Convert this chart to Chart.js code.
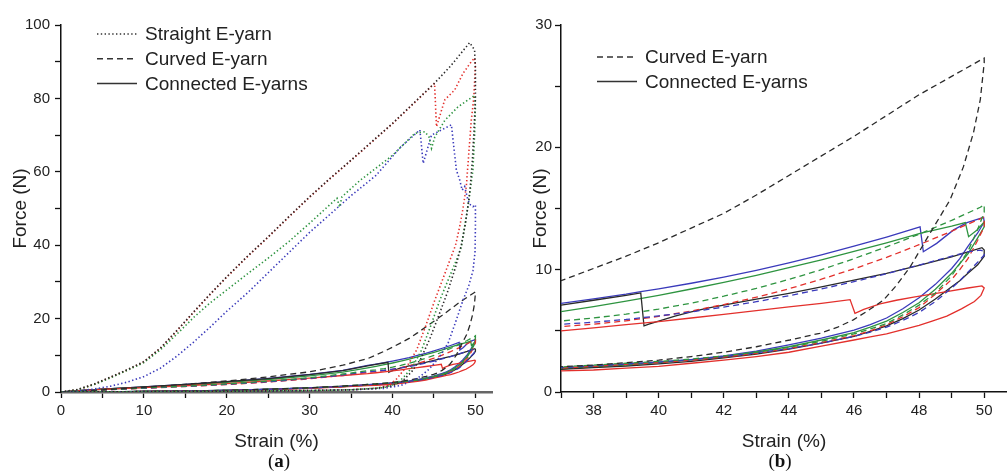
<!DOCTYPE html>
<html>
<head>
<meta charset="utf-8">
<script src="https://cdn.jsdelivr.net/npm/chart.js@4.4.0/dist/chart.umd.min.js"></script>
<style>
  body { margin: 0; background: #fff; width: 1007px; height: 475px; overflow: hidden; position: relative; }
  .panel { position: absolute; top: 0; }
  .panel canvas { display: block; }
  .cap { position: absolute; top: 450px; font: 19px "Liberation Serif", "Times New Roman", serif; color: #111; transform: translateX(-50%); }
</style>
</head>
<body>
<div class="panel" style="left:0"><canvas id="chartA" width="500" height="475"></canvas></div>
<div class="panel" style="left:500px"><canvas id="chartB" width="507" height="475"></canvas></div>
<div class="cap" style="left:279px">(<b>a</b>)</div>
<div class="cap" style="left:780px">(<b>b</b>)</div>
<script>
// strain (%) , force (N) pairs, loading then unloading
const straightBlack = [[0,0],[2,0.7],[4,2.2],[6,4.1],[8,6.1],[10,8.3],[12,12],[14,16.8],[16,21.8],[18,26.7],[20,31.4],[22.5,37],[25,42.3],[27.5,47.8],[30,53.2],[32.5,58.3],[35,63.2],[37.5,68.2],[40,73.2],[42.5,78.6],[45,84],[47,88.8],[49.3,95.2],[49.9,93.2],[50,88],[50,80],[49.8,70],[49.6,62],[49.3,54],[48.8,46],[48.3,40],[47.6,34],[46.6,27],[45.6,21],[44.5,14.5],[43.4,9],[42.3,5.5],[41.2,3],[40,1.7],[38,1],[35,0.6],[30,0.4],[20,0.2],[10,0.1],[0,0]];
const straightRed = [[0,0],[2,0.6],[4,2.1],[6,4],[8,6],[10,8.2],[12,11.9],[14,16.7],[16,21.7],[18,26.6],[20,31.3],[22.5,36.9],[25,42.2],[27.5,47.7],[30,53.1],[32.5,58.2],[35,63.1],[37.5,68.1],[40,73.1],[42.5,78.5],[45.07,84.1],[45.3,72.3],[46.3,79.6],[47.5,82.3],[48.5,86.8],[49.5,90],[49.9,91],[50,89],[49.8,80],[49.5,74],[49.2,65],[48.9,56],[48.5,50],[48.1,45],[47.6,40],[47.1,37],[46.1,31],[45.1,25],[44,18],[42.9,11.4],[41.8,7.2],[41,5],[40.4,3.3],[39.5,1.8],[38,1],[35,0.6],[30,0.4],[20,0.2],[10,0.1],[0,0]];
const straightGreen = [[0,0],[2,0.6],[4,2],[6,3.9],[8,5.9],[10,8],[12,11.5],[14,15.8],[16,20.3],[18,24.3],[20,27.8],[22.5,32.2],[25,36.5],[27.5,41],[30,46],[33.3,52.8],[33.6,50.4],[33.9,53.2],[36,57.5],[38,61],[40,64.5],[42.7,70.5],[43.9,70.9],[44.4,69.5],[44.7,66.4],[45.1,69.5],[46.3,74],[47.9,77.7],[49.7,80.5],[49.9,80.8],[50,78],[49.9,70],[49.7,60.5],[49.1,50.5],[48.3,39.6],[47.9,37],[46.8,31],[45.7,25],[44.6,18],[43.5,11.4],[42.4,6.8],[41.4,4.2],[40.6,2.4],[39,1.2],[35,0.6],[30,0.4],[20,0.2],[10,0.1],[0,0]];
const straightBlue = [[0,0],[2,0.3],[4,0.8],[6,1.6],[8,2.7],[10,4.2],[12,6.5],[14,9.8],[16,13.6],[18,17.7],[20,22],[22.5,27],[25,32.5],[27.5,38],[30,43.5],[33,49.5],[35,53.5],[38,59],[41,66.8],[43.3,71.4],[43.7,62.3],[44.7,70],[45.9,71.4],[47.1,72.8],[47.7,60.5],[48.1,57.8],[48.4,55],[48.7,56],[49.1,52.3],[49.4,51],[49.7,50.5],[50,51],[50,45],[49.95,38],[49.7,33],[49.2,29],[48.5,25],[47.6,19],[46.7,13.3],[45.5,9],[44.3,6],[43.3,4.2],[42.6,3.3],[41,1.8],[39,1],[35,0.6],[30,0.4],[20,0.2],[10,0.1],[0,0]];

const curvedBlack = [[0,0],[2,0.2],[5,0.6],[10,1.3],[15,2.1],[20,3],[25,4.1],[30,5.5],[34,7.3],[37,9.1],[38,10.1],[39,11.1],[40,12.2],[41,13.4],[42,14.6],[43,16.1],[44,17.7],[45,19.3],[46,20.9],[47,22.6],[48,24.3],[49,25.8],[50,27.3],[50,26.9],[49.88,23.9],[49.67,21.2],[49.36,18.4],[48.95,15.7],[48.34,13],[47.72,10.2],[47.3,8.7],[46.9,7.5],[46.4,6.6],[45.98,5.9],[45.5,5.3],[44.95,4.8],[44.03,4.25],[43,3.7],[42,3.25],[41,2.9],[40,2.6],[39,2.4],[38,2.2],[37,2.07],[34,1.6],[30,1.15],[25,0.75],[20,0.45],[15,0.3],[10,0.15],[5,0.05],[0,0]];
const curvedRed = [[0,0],[2,0.2],[5,0.55],[10,1],[15,1.5],[20,2],[25,2.7],[30,3.6],[34,4.5],[37,5.35],[38,5.54],[39,5.82],[40,6.18],[41,6.62],[42,7.15],[43,7.75],[44,8.44],[45,9.22],[46,10.07],[47,11],[48,12.04],[48.65,12.75],[49.3,13.49],[50,14.3],[50,13.5],[49.8,12.4],[49.5,10.9],[49.25,10],[49,9.2],[48.5,8],[48,6.9],[47.5,6.15],[47,5.5],[46.5,5],[46,4.6],[45,4.05],[44,3.55],[43,3.15],[42,2.85],[41,2.6],[40,2.4],[39,2.25],[38,2.1],[37,1.95],[34,1.55],[30,1.1],[25,0.7],[20,0.42],[15,0.28],[10,0.14],[5,0.05],[0,0]];
const curvedGreen = [[0,0],[2,0.22],[5,0.6],[10,1.1],[15,1.6],[20,2.2],[25,2.95],[30,3.9],[34,4.9],[37,5.8],[38,6.05],[39,6.37],[40,6.78],[41,7.26],[42,7.83],[43,8.47],[44,9.2],[45,10],[46,10.9],[47,11.86],[48,12.9],[49,14.03],[49.88,15.1],[50,15.3],[50,14.7],[49.8,13.3],[49.5,11.5],[49.25,10.5],[49,9.5],[48.5,8.1],[48,7.1],[47.5,6.3],[47,5.6],[46.5,5.15],[46,4.75],[45,4.15],[44,3.65],[43,3.25],[42,2.95],[41,2.7],[40,2.5],[39,2.35],[38,2.2],[37,2.05],[34,1.6],[30,1.15],[25,0.75],[20,0.45],[15,0.3],[10,0.15],[5,0.05],[0,0]];
const curvedBlue = [[0,0],[2,0.21],[5,0.57],[10,1.05],[15,1.55],[20,2.1],[25,2.8],[30,3.7],[34,4.65],[37,5.53],[38,5.71],[39,5.93],[40,6.22],[41,6.55],[42,6.94],[43,7.38],[44,7.87],[45,8.42],[46,9.02],[47,9.67],[48,10.38],[49,11.1],[49.5,11.45],[49.88,11.6],[50,11.5],[50,11.2],[49.8,10.6],[49.5,9.8],[49.25,9.1],[49,8.5],[48.5,7.4],[48,6.5],[47.5,5.85],[47,5.3],[46.5,4.9],[46,4.55],[45,4],[44,3.55],[43,3.2],[42,2.9],[41,2.65],[40,2.45],[39,2.3],[38,2.15],[37,2],[34,1.55],[30,1.1],[25,0.72],[20,0.44],[15,0.28],[10,0.14],[5,0.05],[0,0]];

const connectedBlack = [[0,0],[2,0.35],[5,0.8],[10,1.4],[15,2.05],[20,2.8],[25,3.65],[30,4.75],[34,5.85],[37,7.1],[38,7.5],[39,7.9],[39.45,8.1],[39.55,5.4],[39.7,5.55],[40,5.8],[40.5,6.2],[41,6.55],[41.5,6.85],[42,7.1],[43,7.6],[44,8.07],[45,8.6],[46,9.15],[47,9.7],[48,10.35],[49,11.05],[49.93,11.8],[50,11.6],[50,11.1],[49.8,10.4],[49.5,9.7],[49.25,9.1],[49,8.6],[48.5,7.6],[48,6.7],[47.5,6],[47,5.4],[46.5,4.95],[46,4.55],[45,4],[44,3.5],[43,3.1],[42,2.8],[41,2.5],[40,2.3],[39,2.12],[38,2],[37,1.85],[34,1.5],[30,1.1],[25,0.7],[20,0.45],[15,0.28],[10,0.15],[5,0.05],[0,0]];
const connectedRed = [[0,0],[2,0.3],[5,0.7],[10,1.2],[15,1.7],[20,2.3],[25,3],[30,3.8],[34,4.5],[37,5],[38,5.25],[39,5.5],[40,5.75],[41,6.05],[42,6.35],[43,6.65],[44,6.95],[45,7.25],[45.88,7.55],[46.03,6.43],[46.3,6.75],[46.8,7.2],[47.3,7.5],[47.83,7.75],[48.85,8.2],[49.5,8.5],[49.93,8.67],[50,8.5],[49.9,7.9],[49.7,7.4],[49.3,6.8],[48.85,6.2],[48.4,5.8],[48,5.45],[47.5,5.1],[47,4.75],[46.5,4.5],[46,4.25],[45,3.75],[44,3.25],[43,2.9],[42,2.6],[41,2.35],[40,2.1],[39,1.95],[38,1.8],[37,1.72],[34,1.4],[30,1],[25,0.65],[20,0.4],[15,0.25],[10,0.12],[5,0.05],[0,0]];
const connectedGreen = [[0,0],[2,0.32],[5,0.75],[10,1.3],[15,1.9],[20,2.6],[25,3.4],[30,4.4],[34,5.4],[37,6.57],[38,6.98],[39,7.43],[40,7.9],[41,8.42],[42,8.96],[43,9.54],[44,10.16],[45,10.8],[46,11.49],[47,12.2],[48.03,12.97],[49,13.55],[49.42,13.85],[49.52,12.7],[49.78,13.25],[50,13.9],[50,13.5],[49.8,12.6],[49.5,11.3],[49.25,10.5],[49,9.7],[48.5,8.4],[48,7.3],[47.5,6.5],[47,5.8],[46.5,5.3],[46,4.85],[45,4.25],[44,3.7],[43,3.27],[42,2.9],[41,2.62],[40,2.4],[39,2.2],[38,2.05],[37,1.9],[34,1.5],[30,1.1],[25,0.72],[20,0.45],[15,0.28],[10,0.15],[5,0.05],[0,0]];
const connectedBlue = [[0,0],[2,0.35],[5,0.8],[10,1.4],[15,2.05],[20,2.8],[25,3.7],[30,4.8],[34,5.9],[37,7.25],[38,7.62],[39,8],[39.45,8.2],[40,8.43],[41,8.89],[42,9.39],[43,9.95],[44,10.55],[45,11.21],[46,11.92],[47,12.67],[48.03,13.5],[48.13,11.47],[48.54,12.15],[49.06,13.25],[49.47,13.85],[49.98,14.28],[50,13.9],[49.8,13],[49.5,11.9],[49.25,10.9],[49,10.1],[48.5,8.8],[48,7.7],[47.5,6.8],[47,6.05],[46.5,5.5],[46,5.05],[45,4.4],[44,3.85],[43,3.35],[42,2.95],[41,2.65],[40,2.45],[39,2.25],[38,2.1],[37,1.95],[34,1.55],[30,1.15],[25,0.75],[20,0.45],[15,0.3],[10,0.15],[5,0.05],[0,0]];

const legendLabels = ['Straight E-yarn', 'Curved E-yarn', 'Connected E-yarns'];

const FONT = '"Liberation Sans", Arial, Helvetica, sans-serif';
Chart.defaults.font.family = FONT;

const colors = { black: '#2a2a2a', red: '#e3302c', green: '#2e9440', blue: '#3a3abb' };
const DOT = [1.4, 2.4];
const DASH = [6, 4];

function line(points, color, dash, width) {
    return {
        data: points.map(p => ({ x: p[0], y: p[1] })),
        borderColor: color,
        borderDash: dash,
        borderWidth: width,
        pointRadius: 0,
        fill: false,
        tension: 0
    }
}

const straightSets = [
    line(straightBlack, colors.black, DOT, 1.6),
    line(straightGreen, colors.green, DOT, 1.6),
    line(straightBlue, colors.blue, DOT, 1.6),
    line(straightRed, colors.red, DOT, 1.6)
];
const curvedSets = () => [
    line(curvedBlack, colors.black, DASH, 1.3),
    line(curvedGreen, colors.green, DASH, 1.3),
    line(curvedBlue, colors.blue, DASH, 1.3),
    line(curvedRed, colors.red, DASH, 1.3)
];
const connectedSets = () => [
    line(connectedRed, colors.red, [], 1.3),
    line(connectedBlack, colors.black, [], 1.3),
    line(connectedGreen, colors.green, [], 1.3),
    line(connectedBlue, colors.blue, [], 1.3)
];

// little line-style key drawn inside the plot
const styleKey = {
    id: 'styleKey',
    afterDraw(chart, args, opts) {
        const ctx = chart.ctx;
        ctx.save();
        ctx.font = '19px ' + FONT;
        ctx.textBaseline = 'middle';
        opts.items.forEach((it, i) => {
            const y = opts.y + i * opts.gap;
            ctx.strokeStyle = '#333';
            ctx.lineWidth = 1.5;
            ctx.setLineDash(it.dash);
            ctx.beginPath();
            ctx.moveTo(opts.x, y);
            ctx.lineTo(opts.x + 40, y);
            ctx.stroke();
            ctx.setLineDash([]);
            ctx.fillStyle = '#222';
            ctx.fillText(it.label, opts.x + 48, y + 1);
        });
        ctx.restore();
    }
};

function axis(cfg) {
    return {
        type: 'linear',
        min: cfg.min,
        max: cfg.max,
        bounds: 'data',
        ticks: {
            stepSize: cfg.step,
            includeBounds: false,
            autoSkip: false,
            maxRotation: 0,
            padding: cfg.pad,
            color: '#222',
            font: { size: 15 },
            callback: v => (Math.abs(v % cfg.label) < 1e-6 ? String(v) : '')
        },
        grid: {
            drawOnChartArea: false,
            drawTicks: true,
            tickLength: 6,
            tickWidth: 1.3,
            tickColor: c => (Math.abs(c.tick.value % cfg.step) < 1e-6 ? '#111' : 'rgba(0,0,0,0)')
        },
        border: { display: true, color: cfg.borderColor || '#111', width: cfg.borderWidth || 1.5 },
        title: { display: true, text: cfg.title, color: '#222', font: { size: 19 }, padding: cfg.titlePad },
        afterFit: cfg.fit
    }
}

function makeChart(id, datasets, xCfg, yCfg, key, rightPad) {
    return new Chart(document.getElementById(id), {
        type: 'line',
        data: { datasets },
        plugins: [styleKey],
        options: {
            responsive: false,
            animation: false,
            events: [],
            layout: { padding: { top: 25, right: rightPad, left: 0, bottom: 0 } },
            scales: { x: axis(xCfg), y: axis(yCfg) },
            plugins: { legend: { display: false }, tooltip: { enabled: false }, styleKey: key }
        }
    });
}

makeChart('chartA',
    [...straightSets, ...curvedSets(), ...connectedSets()],
    { min: 0, max: 52, step: 5, label: 10, pad: 4, title: 'Strain (%)', titlePad: { top: 0, bottom: 22 },
      borderColor: '#666', borderWidth: 2.5, fit: s => { s.height = 83 } },
    { min: 0, max: 100, step: 10, label: 20, pad: 5, title: 'Force (N)', titlePad: { top: 9, bottom: 0 },
      fit: s => { s.width = 61 } },
    { x: 97, y: 34, gap: 24.7, items: [
        { label: legendLabels[0], dash: DOT },
        { label: legendLabels[1], dash: DASH },
        { label: legendLabels[2], dash: [] }
    ] },
    8);

makeChart('chartB',
    [...curvedSets(), ...connectedSets()],
    { min: 37, max: 50.7, step: 1, label: 2, pad: 4, title: 'Strain (%)', titlePad: { top: 0, bottom: 22 },
      fit: s => { s.height = 83 } },
    { min: 0, max: 30, step: 5, label: 10, pad: 3, title: 'Force (N)', titlePad: { top: 29, bottom: 0 },
      fit: s => { s.width = 61 } },
    { x: 97, y: 57, gap: 24.5, items: [
        { label: legendLabels[1], dash: DASH },
        { label: legendLabels[2], dash: [] }
    ] },
    0);
</script>
</body>
</html>
